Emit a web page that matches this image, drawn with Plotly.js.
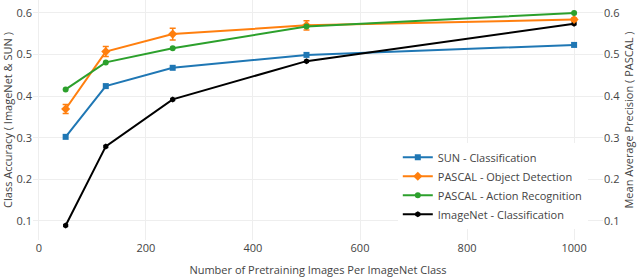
<!DOCTYPE html>
<html>
<head>
<meta charset="utf-8">
<script src="https://cdn.plot.ly/plotly-3.0.1.min.js"></script>
<style>html,body{margin:0;padding:0;background:#fff;}#chart{width:640px;height:278px;}</style>
</head>
<body>
<div id="chart"></div>
<script>
const imagesPerClass = [50, 125, 250, 500, 1000];
const sunClassification = [0.302, 0.424, 0.468, 0.499, 0.523];
const pascalDetection = [0.369, 0.507, 0.549, 0.570, 0.584];
const pascalDetectionErr = [0.011, 0.012, 0.014, 0.011, 0.004];
const pascalAction = [0.416, 0.481, 0.515, 0.567, 0.600];
const imagenetClassification = [0.089, 0.279, 0.392, 0.484, 0.574];
const seriesNames = ["SUN - Classification", "PASCAL - Object Detection", "PASCAL - Action Recognition", "ImageNet - Classification"];

const traces = [
  {x: imagesPerClass, y: sunClassification, name: seriesNames[0], mode: "lines+markers", yaxis: "y",
   line: {color: "#1f77b4", width: 2}, marker: {symbol: "square", size: 6, color: "#1f77b4"}},
  {x: imagesPerClass, y: pascalDetection, name: seriesNames[1], mode: "lines+markers", yaxis: "y2",
   line: {color: "#ff7f0e", width: 2}, marker: {symbol: "diamond", size: 7, color: "#ff7f0e"},
   error_y: {type: "data", array: pascalDetectionErr, visible: true, color: "#ff7f0e", thickness: 1.5, width: 3}},
  {x: imagesPerClass, y: pascalAction, name: seriesNames[2], mode: "lines+markers", yaxis: "y2",
   line: {color: "#2ca02c", width: 2}, marker: {symbol: "circle", size: 6, color: "#2ca02c"}},
  {x: imagesPerClass, y: imagenetClassification, name: seriesNames[3], mode: "lines+markers", yaxis: "y",
   line: {color: "#000000", width: 2}, marker: {symbol: "hexagon", size: 6, color: "#000000"}}
];

const font = {family: "Open Sans, sans-serif", size: 11, color: "#444"};
const layout = {
  width: 640, height: 278,
  margin: {l: 33, r: 37, t: 0, b: 38, pad: 0},
  paper_bgcolor: "#fff", plot_bgcolor: "#fff",
  font: font,
  showlegend: true,
  legend: {x: 0.64, y: 0.405, xanchor: "left", yanchor: "top", bgcolor: "#fff",
           font: {family: "Open Sans, sans-serif", size: 11, color: "#444"}, tracegroupgap: 0},
  xaxis: {range: [-11, 1054], tickvals: [0, 200, 400, 600, 800, 1000], showgrid: true, gridcolor: "#eee",
          zeroline: false, showline: false, ticks: "", tickfont: {size: 11},
          title: {text: "Number of Pretraining Images Per ImageNet Class", font: {size: 11}, standoff: 12}},
  yaxis: {range: [0.054, 0.631], tickvals: [0.1, 0.2, 0.3, 0.4, 0.5, 0.6], showgrid: true, gridcolor: "#eee",
          zeroline: false, showline: false, ticks: "", tickfont: {size: 11},
          title: {text: "Class Accuracy ( ImageNet & SUN )", font: {size: 11}, standoff: 6}},
  yaxis2: {range: [0.054, 0.631], tickvals: [0.1, 0.2, 0.3, 0.4, 0.5, 0.6], overlaying: "y", side: "right",
           showgrid: false, zeroline: false, showline: false, ticks: "", tickfont: {size: 11},
           title: {text: "Mean Average Precision ( PASCAL )", font: {size: 11}, standoff: 6}}
};
Plotly.newPlot("chart", traces, layout, {displayModeBar: false, staticPlot: true});
</script>
</body>
</html>
